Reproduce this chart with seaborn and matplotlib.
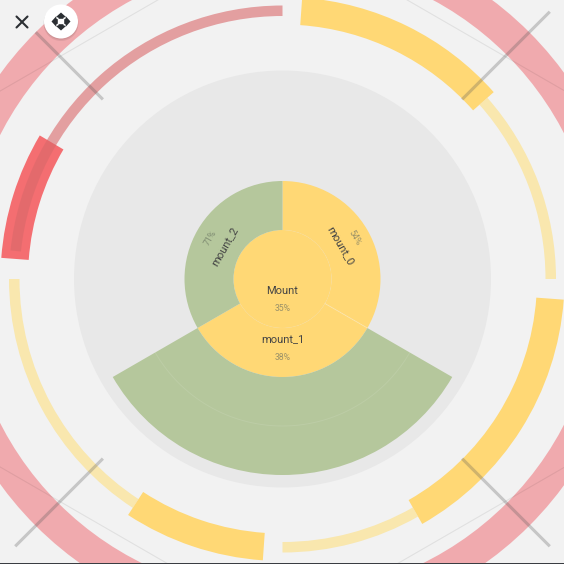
import numpy as np
import pandas as pd
import seaborn as sns
import matplotlib.pyplot as plt
from matplotlib.patches import Circle, Polygon, Rectangle

# inner sunburst
mount_start = [0, 120, 240]
mount_span = [120, 120, 120]
mount_names = ["mount_0", "mount_1", "mount_2"]
mount_pct = ["54%", "38%", "71%"]
mount_colors = ["#ffd875", "#ffd875", "#b5c79c"]

# outer gauges, one thick + one thin arc per mount
thick_start = [4, 94.2, 184, 274.3]
thick_end = [48.5, 150.3, 213.2, 300.6]
thick_colors = ["#ffd875", "#ffd875", "#ffd875", "#f46e71"]
thin_start = [48.5, 150.3, 213.2, 276]
thin_end = [90, 180, 270, 360]
thin_colors = ["#f9e7ae", "#f9e7ae", "#f9e7ae", "#d9686a"]
thin_alpha = [1, 1, 1, 0.6]

hex_angles = [0, 60, 120, 180, 240, 300, 360]
hex_radius = [351, 351, 351, 351, 351, 351, 351]
cross_angles = [45, 135, 225, 315]
cross_inner = [254, 254, 254, 254]
cross_outer = [378, 378, 378, 349]

sns.set_theme(style="white")
plt.rcParams["font.family"] = ["Roboto", "DejaVu Sans"]

BG = "#f2f2f2"
CX, CY, RMAX = 282.5, 279, 420
fig = plt.figure(figsize=(5.64, 5.64), dpi=100, facecolor=BG)
ax = fig.add_axes([(CX - RMAX) / 564, (564 - CY - RMAX) / 564, 2 * RMAX / 564, 2 * RMAX / 564],
                  projection="polar")
ax.set_theta_zero_location("N")
ax.set_theta_direction(-1)
ax.set_facecolor(BG)
ax.grid(False)
ax.spines["polar"].set_visible(False)
ax.set_ylim(0, RMAX)


def arc(a0, a1, r0, r1, color, alpha=1, z=2):
    ax.bar(np.deg2rad(a0), r1 - r0, width=np.deg2rad(a1 - a0), bottom=r0, align="edge",
           color=color, alpha=alpha, linewidth=0, zorder=z)


# background disc and outer red band
arc(0, 360, 0, 208.5, "#e8e8e8", z=1)
arc(0, 360, 317, 349, "#f0aaae", z=1)

# sunburst
arc(0, 360, 0, 49, "#ffd875")
for s, w, c in zip(mount_start, mount_span, mount_colors):
    arc(s, s + w, 49, 98, c)
arc(120, 240, 98, 196, "#b5c79c")

# faint seams
th = np.deg2rad(np.arange(120, 241, 2))
ax.plot(th, np.full(th.size, 147), color="white", alpha=0.1, lw=0.7, zorder=3)
th = np.deg2rad(np.arange(0, 241, 2))
ax.plot(th, np.full(th.size, 49), color="white", alpha=0.05, lw=0.7, zorder=3)
ax.plot(np.deg2rad([120, 120]), [49, 98], color="white", alpha=0.25, lw=0.7, zorder=3)

# gauges
for s, e, c, a in zip(thin_start, thin_end, thin_colors, thin_alpha):
    arc(s, e, 263, 273.5, c, alpha=a, z=4 if a < 1 else 2)
for s, e, c in zip(thick_start, thick_end, thick_colors):
    arc(s, e, 254.5, 282, c, z=3)

# hexagon grid + crossing ticks
hex_df = pd.DataFrame({"theta": np.deg2rad(hex_angles), "r": hex_radius})
sns.lineplot(data=hex_df, x="theta", y="r", sort=False, estimator=None, color="black",
             alpha=0.07, lw=0.8, ax=ax, zorder=5)
for a, r0, r1 in zip(cross_angles, cross_inner, cross_outer):
    ax.plot(np.deg2rad([a, a]), [r0, r1], color="#555555", alpha=0.28, lw=2.2,
            solid_capstyle="butt", zorder=6)
ax.set_xlabel("")
ax.set_ylabel("")
ax.set_xticks([])
ax.set_yticks([])
ax.set_ylim(0, RMAX)

# overlay in pixel coordinates for labels and the toolbar
ov = fig.add_axes([0, 0, 1, 1], facecolor="none")
ov.set_xlim(0, 564)
ov.set_ylim(564, 0)
ov.axis("off")

DARK = "#454545"
PCT = "#9a9168"
ov.text(282.5, 290.5, "Mount", ha="center", va="center", fontsize=8, color=DARK)
ov.text(282.5, 308.5, "35%", ha="center", va="center", fontsize=6.2, color=PCT)
ov.text(282.5, 339.5, mount_names[1], ha="center", va="center", fontsize=8, color=DARK)
ov.text(282.5, 357.5, mount_pct[1], ha="center", va="center", fontsize=6.2, color=PCT)
ov.text(340, 246, mount_names[0], ha="center", va="center", rotation=-60,
        rotation_mode="anchor", fontsize=8, color=DARK)
ov.text(354.5, 238, mount_pct[0], ha="center", va="center", rotation=-60,
        rotation_mode="anchor", fontsize=6.2, color=PCT)
ov.text(225, 246, mount_names[2], ha="center", va="center", rotation=60,
        rotation_mode="anchor", fontsize=8, color=DARK)
ov.text(210.5, 238, mount_pct[2], ha="center", va="center", rotation=60,
        rotation_mode="anchor", fontsize=6.2, color="#7f8c72")

# close icon
ov.plot([16.5, 27.5], [16.5, 27.5], color="#2b2f33", lw=1.5)
ov.plot([16.5, 27.5], [27.5, 16.5], color="#2b2f33", lw=1.5)

# move button
ov.add_patch(Circle((61, 23.5), 17.5, color="black", alpha=0.07, lw=0))
ov.add_patch(Circle((61, 22.5), 17.2, color="black", alpha=0.07, lw=0))
ov.add_patch(Circle((61, 21.5), 17, color="white", lw=0))
ICON = "#2b2f33"
ov.add_patch(Polygon([(61, 12.5), (56, 17), (58.2, 17.5), (58.8, 18.8), (63.2, 18.8), (63.8, 17.5), (66, 17)], color=ICON, lw=0))
ov.add_patch(Polygon([(61, 30.5), (56, 26), (58.2, 25.5), (58.8, 24.2), (63.2, 24.2), (63.8, 25.5), (66, 26)], color=ICON, lw=0))
ov.add_patch(Polygon([(51.5, 21.5), (56, 16.5), (56.5, 18.7), (57.8, 19.3), (57.8, 23.7), (56.5, 24.3), (56, 26.5)], color=ICON, lw=0))
ov.add_patch(Polygon([(70.5, 21.5), (66, 16.5), (65.5, 18.7), (64.2, 19.3), (64.2, 23.7), (65.5, 24.3), (66, 26.5)], color=ICON, lw=0))

# bottom edge of the screenshot
ov.add_patch(Rectangle((0, 562.6), 564, 1.4, color="#3a3d42", lw=0))

fig.savefig("out.png", dpi=100, facecolor=BG)
